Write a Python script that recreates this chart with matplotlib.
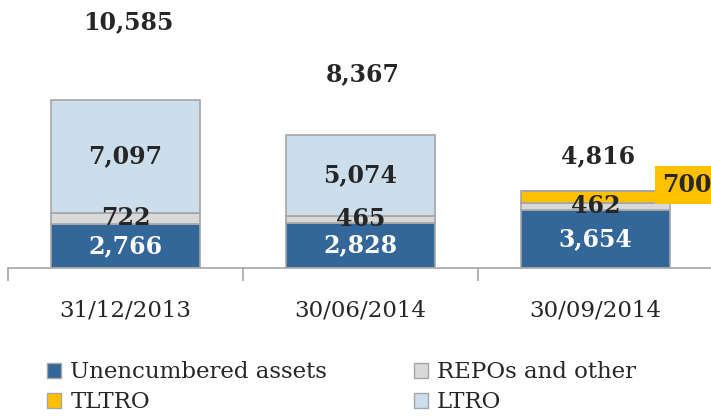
import numpy as np
import matplotlib.pyplot as plt
from matplotlib.patches import Patch

# data (EUR mn)
dates = ['31/12/2013', '30/06/2014', '30/09/2014']
unencumbered = [2766, 2828, 3654]
repos = [722, 465, 462]
tltro = [0, 0, 700]
ltro = [7097, 5074, 0]
totals = [10585, 8367, 4816]

c_unenc = '#336699'
c_repos = '#D9D9D9'
c_tltro = '#FFC000'
c_ltro = '#CCDDEB'
edge = '#A6A6A6'
txt = '#262626'

plt.rcParams['font.family'] = ['DejaVu Serif']

fig = plt.figure(figsize=(7.11, 4.18), dpi=100)
ax = fig.add_axes([8/711, 150/418, 705/711, 268/418])

x = np.arange(len(dates))
w = 0.634
u = np.array(unencumbered)
r = np.array(repos)
t = np.array(tltro)
l = np.array(ltro)

ax.bar(x, u, w, color=c_unenc, edgecolor=edge, linewidth=1.2)
ax.bar(x, r, w, bottom=u, color=c_repos, edgecolor=edge, linewidth=1.2)
ax.bar(x, t, w, bottom=u + r, color=c_tltro, edgecolor=edge, linewidth=1.2)
ax.bar(x, l, w, bottom=u + r + t, color=c_ltro, edgecolor=edge, linewidth=1.2)

fs = 17
for i in range(len(dates)):
    ax.text(x[i], u[i] / 2, f'{u[i]:,}', ha='center', va='center',
            color='white', fontsize=fs, fontweight='bold')
    ax.text(x[i], u[i] + r[i] / 2, f'{r[i]:,}', ha='center', va='center',
            color=txt, fontsize=fs, fontweight='bold')
    if l[i] > 0:
        ax.text(x[i], u[i] + r[i] + t[i] + l[i] / 2, f'{l[i]:,}', ha='center',
                va='center', color=txt, fontsize=fs, fontweight='bold')
    if t[i] > 0:
        ax.text(x[i] + w / 2 + 0.07, u[i] + r[i] + t[i] + 400, f'{t[i]:,}',
                ha='center', va='center', color=txt, fontsize=fs,
                fontweight='bold',
                bbox=dict(facecolor=c_tltro, edgecolor='none', pad=5))
    ax.text(x[i] + 0.01, totals[i] * 1.46, f'{totals[i]:,}', ha='center',
            va='center', color=txt, fontsize=fs, fontweight='bold')

ax.set_xlim(-0.5, 2.5)
ax.set_ylim(0, 16855)
for s in ['top', 'right', 'left']:
    ax.spines[s].set_visible(False)
ax.spines['bottom'].set_color(edge)
ax.spines['bottom'].set_linewidth(1.2)
ax.set_yticks([])
ax.set_xticks([-0.5, 0.5, 1.5, 2.5])
ax.set_xticklabels([])
ax.tick_params(axis='x', which='major', length=9, color=edge, width=1.2)
ax.set_xticks(x, minor=True)
ax.set_xticklabels(dates, minor=True, fontsize=16.5, color=txt)
ax.tick_params(axis='x', which='minor', length=0, pad=23)

handles = [Patch(facecolor=c_unenc, edgecolor=edge),
           Patch(facecolor=c_tltro, edgecolor=edge),
           Patch(facecolor=c_repos, edgecolor=edge),
           Patch(facecolor=c_ltro, edgecolor=edge)]
labels = ['Unencumbered assets', 'TLTRO', 'REPOs and other', 'LTRO']
fig.legend(handles, labels, ncol=2, loc='upper left',
           bbox_to_anchor=(36/711, 1 - 350/418), frameon=False,
           fontsize=16.5, handlelength=0.6, handleheight=0.6,
           handletextpad=0.4, columnspacing=3.8, labelspacing=0.35,
           borderpad=0, labelcolor=txt)

fig.savefig('out.png', dpi=100)
